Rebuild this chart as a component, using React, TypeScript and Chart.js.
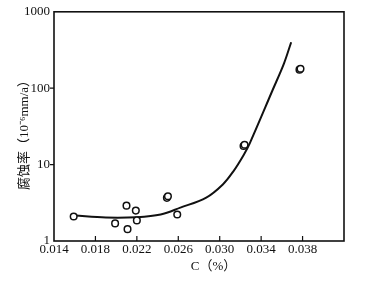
import React, { useEffect, useRef } from "react";
import { Chart, registerables } from "chart.js";

Chart.register(...registerables);

// Tick values
const xTicks = [0.014, 0.018, 0.022, 0.026, 0.03, 0.034, 0.038, 0.042];
const yTicks = [1, 10, 100, 1000];

// Measured points: carbon content (%) vs corrosion rate (10^-6 mm/a)
const measuredC = [0.0159, 0.0199, 0.021, 0.0211, 0.0219, 0.022, 0.0249, 0.025, 0.0259, 0.0323, 0.0324, 0.0377, 0.0378];
const measuredRate = [2.09, 1.7, 2.9, 1.43, 2.5, 1.86, 3.67, 3.85, 2.22, 17.5, 18.2, 175, 180];

// Fitted curve
const fitC = [0.016, 0.019, 0.022, 0.0243, 0.0262, 0.0287, 0.0303, 0.0313, 0.0323, 0.0329, 0.0351, 0.0362, 0.0369];
const fitRate = [2.15, 2.03, 2.05, 2.22, 2.73, 3.7, 5.5, 8.1, 13.3, 19, 94, 210, 400];

const SERIF = '"Liberation Serif", "Times New Roman", "Noto Sans CJK SC", serif';

const framePlugin = {
  id: "frame",
  afterDraw(chart: any) {
    const { ctx, chartArea } = chart;
    const { left, right, top, bottom } = chartArea;
    const xs = chart.scales.x;
    const ys = chart.scales.y;
    ctx.save();
    ctx.strokeStyle = "#111";
    ctx.lineWidth = 1.6;
    ctx.strokeRect(left, top, right - left, bottom - top);
    ctx.lineWidth = 1.2;
    ctx.beginPath();
    xTicks.slice(1, -1).forEach((v) => {
      const px = xs.getPixelForValue(v);
      ctx.moveTo(px, bottom);
      ctx.lineTo(px, bottom - 5);
    });
    yTicks.slice(1, -1).forEach((v) => {
      const py = ys.getPixelForValue(v);
      ctx.moveTo(left, py);
      ctx.lineTo(left - 4, py);
    });
    ctx.stroke();

    ctx.fillStyle = "#111";
    // x title
    ctx.font = `13px ${SERIF}`;
    ctx.textAlign = "center";
    ctx.textBaseline = "middle";
    ctx.fillText("C（%）", left + (right - left) * 0.55, 267);
    // y title
    ctx.translate(25, 132);
    ctx.rotate(-Math.PI / 2);
    ctx.font = `13px ${SERIF}`;
    ctx.fillText("腐蚀率（10⁻⁶mm/a）", 0, 0);
    ctx.restore();
  },
};

export default function App() {
  const ref = useRef<HTMLCanvasElement | null>(null);
  useEffect(() => {
    document.body.style.margin = "0";
    const canvas = ref.current;
    if (!canvas) return;
    const chart = new Chart(canvas, {
      type: "scatter",
      data: {
        datasets: [
          {
            data: measuredC.map((c, i) => ({ x: c, y: measuredRate[i] })),
            pointStyle: "circle",
            pointRadius: 3.3,
            pointBorderWidth: 1.5,
            pointBackgroundColor: "#fff",
            pointBorderColor: "#111",
            showLine: false,
            order: 0,
          },
          {
            data: fitC.map((c, i) => ({ x: c, y: fitRate[i] })),
            showLine: true,
            pointRadius: 0,
            borderColor: "#111",
            borderWidth: 2,
            tension: 0.35,
            order: 1,
          },
        ],
      },
      options: {
        animation: false,
        responsive: false,
        devicePixelRatio: 1,
        layout: { padding: { top: 7, right: 26, left: 0, bottom: 0 } },
        plugins: { legend: { display: false }, tooltip: { enabled: false } },
        scales: {
          x: {
            type: "linear",
            min: 0.014,
            max: 0.042,
            grid: { display: false, drawTicks: false },
            border: { display: false },
            afterBuildTicks: (s: any) => {
              s.ticks = xTicks.map((v) => ({ value: v }));
            },
            afterFit: (s: any) => {
              s.height = 40;
            },
            ticks: {
              padding: 1,
              maxRotation: 0,
              autoSkip: false,
              color: "#111",
              font: { family: SERIF, size: 13 },
              callback: (v: any) => (Math.abs(v - 0.042) < 1e-9 ? "" : Number(v).toFixed(3)),
            },
          },
          y: {
            type: "logarithmic",
            min: 1,
            max: 1000,
            grid: { display: false, drawTicks: false },
            border: { display: false },
            afterBuildTicks: (s: any) => {
              s.ticks = yTicks.map((v) => ({ value: v }));
            },
            afterFit: (s: any) => {
              s.width = 54;
            },
            ticks: {
              padding: 4,
              autoSkip: false,
              color: "#111",
              font: { family: SERIF, size: 13 },
              callback: (v: any) => String(v),
            },
          },
        },
      },
      plugins: [framePlugin],
    } as any);
    return () => chart.destroy();
  }, []);
  return (
    <div style={{ width: 370, height: 281, background: "#fff" }}>
      <canvas ref={ref} width={370} height={281} style={{ display: "block" }} />
    </div>
  );
}
